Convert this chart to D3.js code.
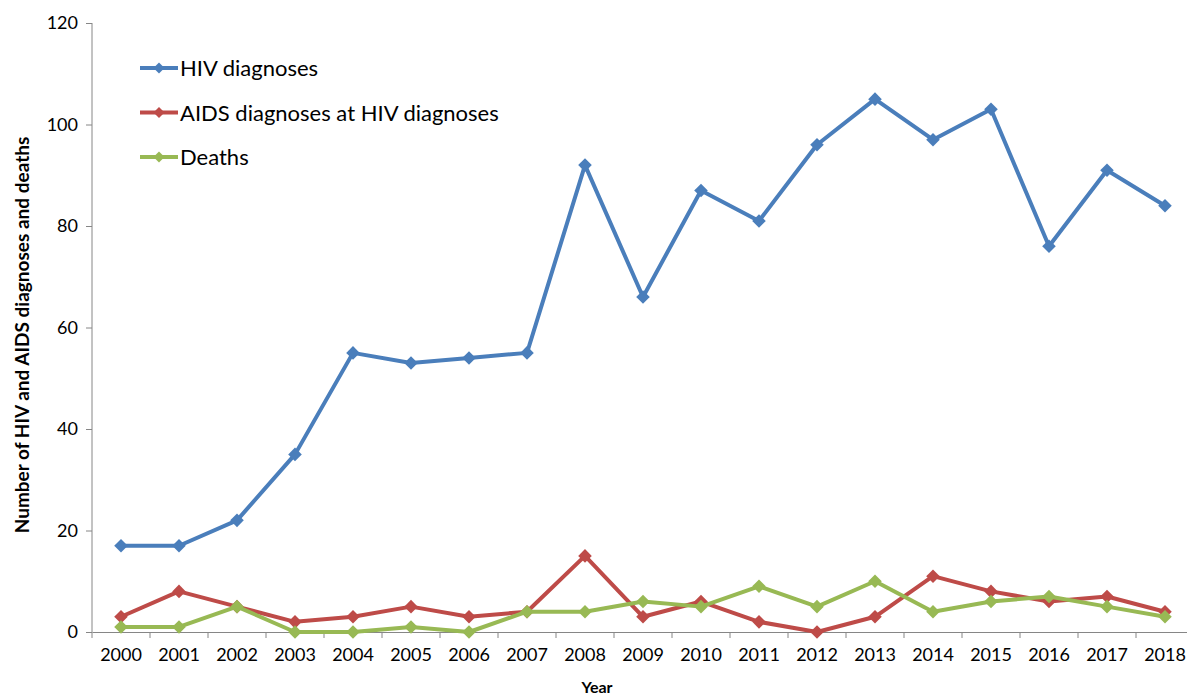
<!DOCTYPE html>
<html><head><meta charset="utf-8">
<script src="https://cdn.jsdelivr.net/npm/d3@7/dist/d3.min.js"></script>
<style>body{margin:0;background:#fff;} svg{display:block;}</style>
</head><body>
<svg id="c" width="1187" height="698"></svg>
<script>
const years = ["2000","2001","2002","2003","2004","2005","2006","2007","2008","2009","2010","2011","2012","2013","2014","2015","2016","2017","2018"];
const hivDiagnoses = [17,17,22,35,55,53,54,55,92,66,87,81,96,105,97,103,76,91,84];
const aidsAtHiv = [3,8,5,2,3,5,3,4,15,3,6,2,0,3,11,8,6,7,4];
const deaths = [1,1,5,0,0,1,0,4,4,6,5,9,5,10,4,6,7,5,3];
const yTicks = [0,20,40,60,80,100,120];
const seriesNames = ["HIV diagnoses","AIDS diagnoses at HIV diagnoses","Deaths"];
const seriesColors = ["#4A7EBB","#BE4B48","#98B954"];

const svg = d3.select("#c");
const font = "Lato, 'Open Sans', sans-serif";
const x = d3.scaleBand().domain(years).range([92, 1194]);
const y = d3.scaleLinear().domain([0,120]).range([632, 23]);
const axisCol = "#868686";

// y axis
const ya = svg.append("g").attr("transform","translate(92,0)")
  .call(d3.axisLeft(y).tickValues(yTicks).tickSize(6).tickPadding(8));
ya.selectAll("path,line").attr("stroke",axisCol);
ya.selectAll("text").attr("font-family",font).attr("font-size",18).attr("fill","#000");
ya.select(".domain").attr("d","M0,23V632");

// x axis
const xa = svg.append("g").attr("transform","translate(0,632)")
  .call(d3.axisBottom(x).tickSize(0).tickPadding(16));
xa.select(".domain").attr("stroke",axisCol);
xa.selectAll("text").attr("font-family",font).attr("font-size",18).attr("fill","#000");
xa.selectAll(".sep").data(years).enter().append("line")
  .attr("x1",d=>x(d)).attr("x2",d=>x(d)).attr("y1",0).attr("y2",6).attr("stroke",axisCol);

// titles
svg.append("text").attr("transform","translate(29,335) rotate(-90)").attr("text-anchor","middle")
  .attr("font-family",font).attr("font-weight","bold").attr("font-size",19).text("Number of HIV and AIDS diagnoses and deaths");
svg.append("text").attr("x",597).attr("y",693).attr("text-anchor","middle")
  .attr("font-family",font).attr("font-weight","bold").attr("font-size",16).text("Year");

const data = [hivDiagnoses, aidsAtHiv, deaths];
const cx = d => x(d) + x.bandwidth()/2;
const line = d3.line().x((v,i)=>cx(years[i])).y(v=>y(v));
const marker = d3.symbol().type(d3.symbolSquare).size(92);

data.forEach((vals, si) => {
  const g = svg.append("g");
  g.append("path").datum(vals).attr("d", line).attr("fill","none")
    .attr("stroke", seriesColors[si]).attr("stroke-width",4).attr("stroke-linejoin","round");
  g.selectAll("path.m").data(vals).enter().append("path").attr("class","m")
    .attr("d", marker).attr("transform",(v,i)=>`translate(${cx(years[i])},${y(v)}) rotate(45)`)
    .attr("fill", seriesColors[si]);
});

// legend
const lg = svg.append("g");
seriesNames.forEach((n, i) => {
  const ly = 68 + i*44.5;
  lg.append("line").attr("x1",140).attr("x2",178).attr("y1",ly).attr("y2",ly)
    .attr("stroke",seriesColors[i]).attr("stroke-width",4);
  lg.append("path").attr("d", d3.symbol().type(d3.symbolSquare).size(60)())
    .attr("transform",`translate(159,${ly}) rotate(45)`).attr("fill",seriesColors[i]);
  lg.append("text").attr("x",180).attr("y",ly+8).attr("font-family",font).attr("font-size",22).text(n);
});
</script>
</body></html>
